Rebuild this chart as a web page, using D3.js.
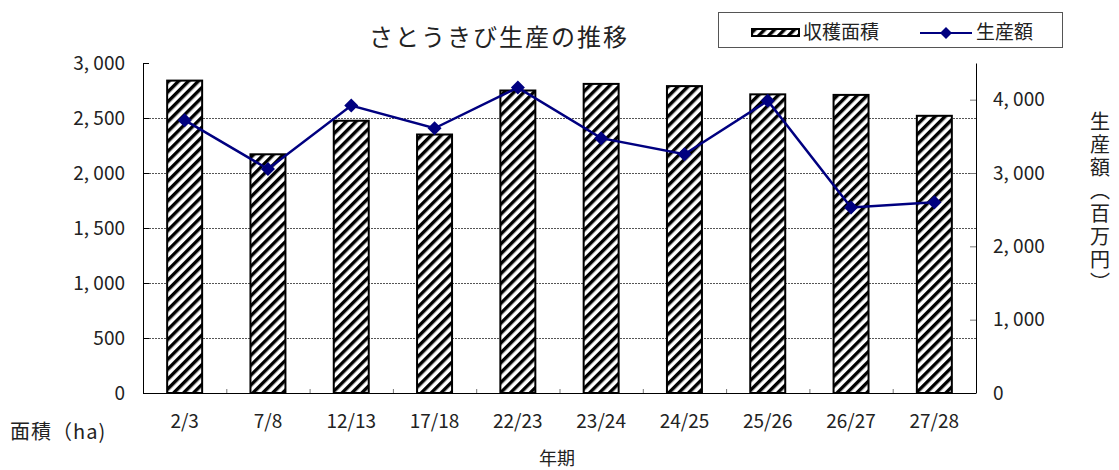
<!DOCTYPE html>
<html>
<head>
<meta charset="utf-8">
<script src="https://cdn.jsdelivr.net/npm/d3@7"></script>
<style>
  body { margin: 0; background: #fff; }
  text { font-family: "Noto Sans CJK JP", "Noto Sans", sans-serif; fill: #222; }
</style>
</head>
<body>
<div id="chart"></div>
<script>
// 年期
var years = ['2/3', '7/8', '12/13', '17/18', '22/23', '23/24', '24/25', '25/26', '26/27', '27/28'];
// 収穫面積 (ha)
var area = [2840, 2170, 2475, 2350, 2750, 2810, 2790, 2715, 2710, 2520];
// 生産額 (百万円)
var output = [3720, 3055, 3920, 3610, 4165, 3475, 3255, 3985, 2530, 2600];
var leftTicks = [0, 500, 1000, 1500, 2000, 2500, 3000];
var rightTicks = [0, 1000, 2000, 3000, 4000];

var W = 1119, H = 470;
var x0 = 143, x1 = 976, yTop = 63, yBot = 393;

var fmt = function(d) { return d3.format(',')(d).replace(',', ',\u00a0'); };

var svg = d3.select('#chart').append('svg')
  .attr('width', W).attr('height', H);

var defs = svg.append('defs');
var pat = defs.append('pattern')
  .attr('id', 'hatch')
  .attr('patternUnits', 'userSpaceOnUse')
  .attr('width', 7).attr('height', 7)
  .attr('patternTransform', 'rotate(45)');
pat.append('rect').attr('width', 7).attr('height', 7).attr('fill', '#fff');
pat.append('rect').attr('width', 3.4).attr('height', 7).attr('fill', '#000');

var xS = d3.scaleBand()
  .domain(years)
  .range([x0, x1])
  .paddingInner(0.58)
  .paddingOuter(0.29);
var xC = d3.scaleBand().domain(years).range([x0, x1]).padding(0);
var yL = d3.scaleLinear().domain([0, 3000]).range([yBot, yTop]);
var yR = d3.scaleLinear().domain([0, 4500]).range([yBot, yTop]);

// grid lines
svg.append('g').selectAll('line')
  .data(leftTicks.filter(function(d) { return d > 0 && d < 3000; }))
  .enter().append('line')
  .attr('x1', x0).attr('x2', x1)
  .attr('y1', function(d) { return yL(d) + 0.5; })
  .attr('y2', function(d) { return yL(d) + 0.5; })
  .attr('stroke', '#555').attr('stroke-width', 1)
  .attr('stroke-dasharray', '2,1');

// bars
svg.append('g').selectAll('rect')
  .data(area)
  .enter().append('rect')
  .attr('x', function(d, i) { return xS(years[i]); })
  .attr('y', function(d) { return yL(d); })
  .attr('width', xS.bandwidth())
  .attr('height', function(d) { return yBot - yL(d); })
  .attr('fill', 'url(#hatch)')
  .attr('stroke', '#000').attr('stroke-width', 2);

// left axis
var gl = svg.append('g')
  .attr('transform', 'translate(' + x0 + ',0)')
  .call(d3.axisLeft(yL).tickValues(leftTicks).tickFormat(fmt).tickSizeInner(-6).tickSizeOuter(0).tickPadding(18));
gl.select('.domain').attr('stroke', '#000');
gl.selectAll('.tick line').attr('stroke', '#000');
gl.selectAll('text').style('font-size', '19px').attr('fill', '#222');

// right axis
var gr = svg.append('g')
  .attr('transform', 'translate(' + x1 + ',0)')
  .call(d3.axisRight(yR).tickValues(rightTicks).tickFormat(fmt).tickSizeInner(-6).tickSizeOuter(0).tickPadding(17));
gr.select('.domain').attr('stroke', '#000');
gr.selectAll('.tick line').attr('stroke', '#777');
gr.selectAll('text').style('font-size', '19px').attr('fill', '#222');

// bottom axis
svg.append('line')
  .attr('x1', x0).attr('x2', x1).attr('y1', yBot + 0.5).attr('y2', yBot + 0.5)
  .attr('stroke', '#000').attr('stroke-width', 1.2);
svg.append('g').selectAll('line')
  .data(years.slice(1))
  .enter().append('line')
  .attr('x1', function(d) { return xC(d) + 0.5; })
  .attr('x2', function(d) { return xC(d) + 0.5; })
  .attr('y1', yBot).attr('y2', yBot - 4)
  .attr('stroke', '#777');
svg.append('g').selectAll('text')
  .data(years)
  .enter().append('text')
  .attr('x', function(d) { return xC(d) + xC.bandwidth() / 2; })
  .attr('y', 428)
  .attr('text-anchor', 'middle')
  .style('font-size', '19px')
  .text(function(d) { return d; });

// line
var line = d3.line()
  .x(function(d, i) { return xC(years[i]) + xC.bandwidth() / 2; })
  .y(function(d) { return yR(d); });
svg.append('path')
  .datum(output)
  .attr('d', line)
  .attr('fill', 'none')
  .attr('stroke', '#000080')
  .attr('stroke-width', 2.5);
svg.append('g').selectAll('path')
  .data(output)
  .enter().append('path')
  .attr('transform', function(d, i) {
    return 'translate(' + (xC(years[i]) + xC.bandwidth() / 2) + ',' + yR(d) + ')';
  })
  .attr('d', 'M0,-7L7,0L0,7L-7,0Z')
  .attr('fill', '#000080');

// title
svg.append('text')
  .attr('x', 499).attr('y', 46)
  .attr('text-anchor', 'middle')
  .style('font-size', '24px')
  .style('letter-spacing', '2px')
  .text('さとうきび生産の推移');

// axis titles
svg.append('text')
  .attr('x', 10).attr('y', 439)
  .style('font-size', '20px')
  .style('letter-spacing', '1px')
  .text('面積（ha)');
svg.append('text')
  .attr('x', 557).attr('y', 465)
  .attr('text-anchor', 'middle')
  .style('font-size', '18px')
  .text('年期');
svg.append('text')
  .attr('x', 1100).attr('y', 111)
  .style('writing-mode', 'vertical-rl')
  .style('text-orientation', 'upright')
  .style('font-size', '20px')
  .style('letter-spacing', '3px')
  .text('生産額（百万円）');

// legend
var lg = svg.append('g');
lg.append('rect')
  .attr('x', 718.5).attr('y', 12.5).attr('width', 344).attr('height', 35)
  .attr('fill', '#fff').attr('stroke', '#555');
lg.append('rect')
  .attr('x', 752).attr('y', 29).attr('width', 47).attr('height', 7)
  .attr('fill', 'url(#hatch)').attr('stroke', '#000').attr('stroke-width', 2);
lg.append('text')
  .attr('x', 803).attr('y', 39)
  .style('font-size', '19px')
  .text('収穫面積');
lg.append('line')
  .attr('x1', 920).attr('x2', 972).attr('y1', 33).attr('y2', 33)
  .attr('stroke', '#000080').attr('stroke-width', 2);
lg.append('path')
  .attr('transform', 'translate(946,33)')
  .attr('d', 'M0,-6L6,0L0,6L-6,0Z')
  .attr('fill', '#000080');
lg.append('text')
  .attr('x', 976).attr('y', 39)
  .style('font-size', '19px')
  .text('生産額');
</script>
</body>
</html>
